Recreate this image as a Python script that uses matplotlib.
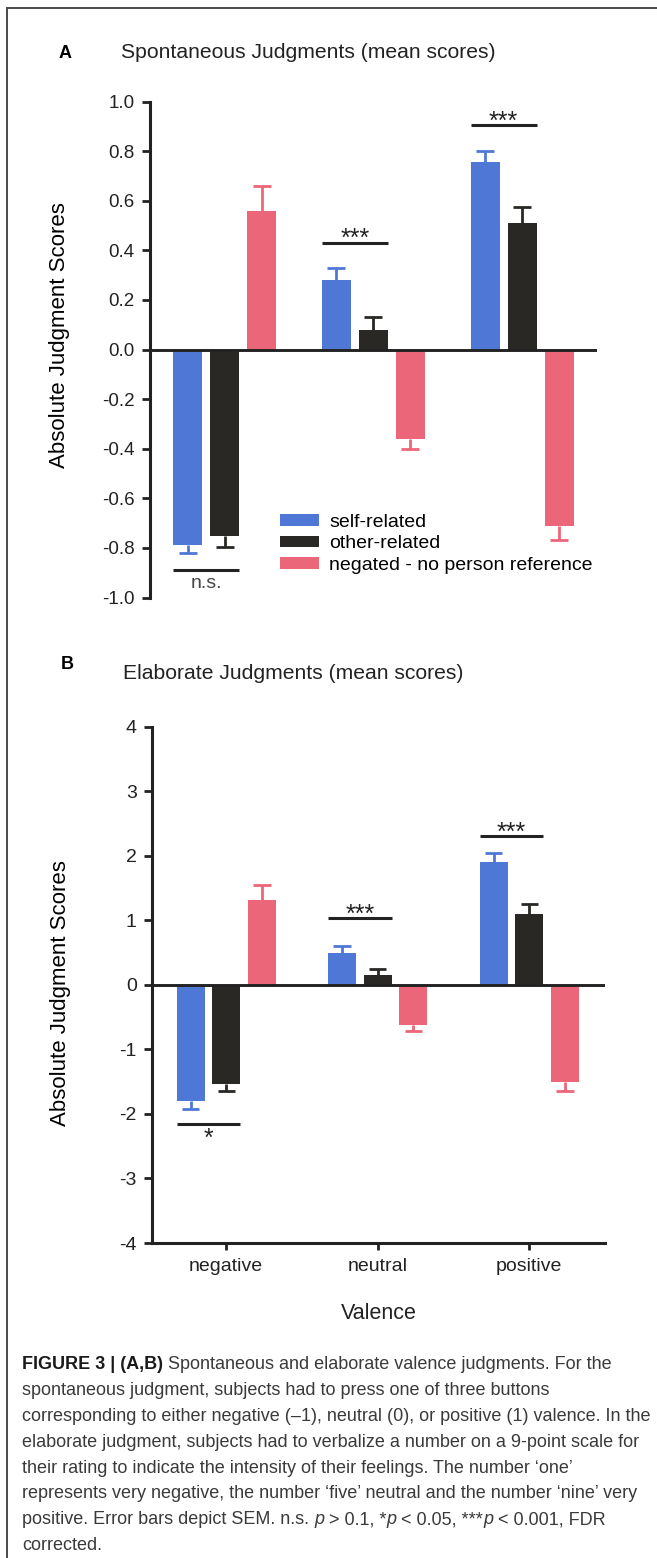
import matplotlib
matplotlib.use("Agg")
import matplotlib.pyplot as plt
from matplotlib.lines import Line2D
import numpy as np

plt.rcParams["font.family"] = ["Liberation Sans", "DejaVu Sans"]
plt.rcParams["axes.unicode_minus"] = False

W, H = 657, 1558

categories = ["negative", "neutral", "positive"]
series_labels = ["self-related", "other-related", "negated - no person reference"]
series_colors = ["#4f78d6", "#292825", "#ec6679"]

# (A) spontaneous judgments: mean and SEM per valence
spont_self = [-0.79, 0.28, 0.755]
spont_self_sem = [0.03, 0.05, 0.045]
spont_other = [-0.75, 0.08, 0.51]
spont_other_sem = [0.047, 0.05, 0.064]
spont_neg = [0.56, -0.36, -0.71]
spont_neg_sem = [0.10, 0.043, 0.057]
spont_sig = ["n.s.", "***", "***"]
spont_sig_y = [-0.89, 0.43, 0.905]

# (B) elaborate judgments
elab_self = [-1.80, 0.50, 1.90]
elab_self_sem = [0.12, 0.10, 0.15]
elab_other = [-1.54, 0.155, 1.10]
elab_other_sem = [0.11, 0.088, 0.16]
elab_neg = [1.32, -0.625, -1.50]
elab_neg_sem = [0.23, 0.085, 0.14]
elab_sig = ["*", "***", "***"]
elab_sig_y = [-2.15, 1.03, 2.30]

caption_lines = [
    [("FIGURE 3 | (A,B)", "bold", "normal"),
     (" Spontaneous and elaborate valence judgments. For the", "normal", "normal")],
    [("spontaneous judgment, subjects had to press one of three buttons", "normal", "normal")],
    [("corresponding to either negative (\u20131), neutral (0), or positive (1) valence. In the", "normal", "normal")],
    [("elaborate judgment, subjects had to verbalize a number on a 9-point scale for", "normal", "normal")],
    [("their rating to indicate the intensity of their feelings. The number \u2018one\u2019", "normal", "normal")],
    [("represents very negative, the number \u2018five\u2019 neutral and the number \u2018nine\u2019 very", "normal", "normal")],
    [("positive. Error bars depict SEM. n.s. ", "normal", "normal"), ("p", "normal", "italic"),
     (" > 0.1, *", "normal", "normal"), ("p", "normal", "italic"),
     (" < 0.05, ***", "normal", "normal"), ("p", "normal", "italic"),
     (" < 0.001, FDR", "normal", "normal")],
    [("corrected.", "normal", "normal")],
]

AXC = "#222222"


def draw_panel(ax, means, sems, sig_text, sig_y, width, pitch):
    x = np.arange(len(categories))
    cap = width * 0.62
    for i, (m, s, c, lab) in enumerate(zip(means, sems, series_colors, series_labels)):
        xs = x + (i - 1) * pitch
        m = np.asarray(m, dtype=float)
        s = np.asarray(s, dtype=float)
        ax.bar(xs, m, width, color=c, label=lab, zorder=2)
        # one-sided SEM bars pointing away from zero
        tip = m + np.sign(m) * s
        ax.vlines(xs, m, tip, colors=c, lw=2.0, zorder=1.5)
        ax.hlines(tip, xs - cap / 2, xs + cap / 2, colors=c, lw=2.0, zorder=1.5)
    ax.axhline(0, color=AXC, lw=2.1, zorder=3)

    for xc, txt, y in zip(x, sig_text, sig_y):
        x0 = xc - pitch - width / 2
        x1 = xc + width / 2
        ax.plot([x0, x1], [y, y], color=AXC, lw=2.2, solid_capstyle="butt", clip_on=False)
        if y > 0:
            ax.annotate(txt, ((x0 + x1) / 2, y), xytext=(0, -2.5), textcoords="offset points",
                        ha="center", va="baseline", fontsize=18, color=AXC, annotation_clip=False)
        elif txt == "n.s.":
            ax.annotate(txt, ((x0 + x1) / 2, y), xytext=(0, -12.5), textcoords="offset points",
                        ha="center", va="baseline", fontsize=14, color="#444444", annotation_clip=False)
        else:
            ax.annotate(txt, ((x0 + x1) / 2, y), xytext=(0, -2.5), textcoords="offset points",
                        ha="center", va="top", fontsize=18, color=AXC, annotation_clip=False)

    for side in ["top", "right"]:
        ax.spines[side].set_visible(False)
    ax.spines["left"].set_linewidth(2.2)
    ax.spines["left"].set_color(AXC)
    ax.tick_params(axis="y", direction="out", length=6, width=2, color=AXC,
                   labelsize=13.5, pad=5, labelcolor="#222222")
    ax.set_facecolor("none")


fig = plt.figure(figsize=(W / 100, H / 100), dpi=100)

# ---- panel A
axA = fig.add_axes([150 / W, 1 - 597.5 / H, 447 / W, 496 / H])
draw_panel(axA, [spont_self, spont_other, spont_neg],
           [spont_self_sem, spont_other_sem, spont_neg_sem],
           spont_sig, spont_sig_y, width=0.195, pitch=0.249)
axA.set_xlim(-0.502, 2.504)
axA.set_ylim(-1.0, 1.0)
ticksA = np.round(np.arange(-1.0, 1.01, 0.2), 1) + 0.0
axA.set_yticks(ticksA)
axA.set_yticklabels([f"{abs(v):.1f}" if abs(v) < 1e-9 else f"{v:.1f}" for v in ticksA])
axA.spines["bottom"].set_visible(False)
axA.set_xticks([])
axA.set_ylabel("Absolute Judgment Scores", fontsize=16)
axA.yaxis.set_label_coords(-0.18, 0.529)
axA.legend(loc="center left", bbox_to_anchor=(0.291, 0.108), frameon=False,
           fontsize=14, handlelength=2.0, handleheight=0.55, handletextpad=0.52,
           labelspacing=0.23, borderpad=0, borderaxespad=0)

# ---- panel B
axB = fig.add_axes([152 / W, 1 - 1243 / H, 453 / W, 516.3 / H])
draw_panel(axB, [elab_self, elab_other, elab_neg],
           [elab_self_sem, elab_other_sem, elab_neg_sem],
           elab_sig, elab_sig_y, width=0.185, pitch=0.235)
axB.set_xlim(-0.49, 2.5)
axB.set_ylim(-4, 4)
axB.set_yticks(range(-4, 5))
axB.spines["bottom"].set_linewidth(2.2)
axB.spines["bottom"].set_color(AXC)
axB.set_xticks(range(len(categories)))
axB.set_xticklabels(categories)
axB.tick_params(axis="x", direction="out", length=5, width=2, color=AXC,
                labelsize=14, pad=6, labelcolor="#222222")
axB.tick_params(axis="y", labelsize=14)
axB.set_xlabel("Valence", fontsize=15.5, labelpad=20, color="#222222")
axB.set_ylabel("Absolute Judgment Scores", fontsize=16)
axB.yaxis.set_label_coords(-0.178, 0.484)

# ---- panel letters and titles
fig.text(59 / W, 1 - 58 / H, "A", fontsize=13, fontweight="bold", va="baseline")
fig.text(121 / W, 1 - 58 / H, "Spontaneous Judgments (mean scores)", fontsize=15.2,
         va="baseline", color="#222222")
fig.text(61 / W, 1 - 669 / H, "B", fontsize=13, fontweight="bold", va="baseline")
fig.text(123 / W, 1 - 679 / H, "Elaborate Judgments (mean scores)", fontsize=15.2,
         va="baseline", color="#222222")

# ---- frame lines
fig.add_artist(Line2D([7 / W, 7 / W], [0, 1 - 8 / H], transform=fig.transFigure,
                      color="#4a4a4a", lw=1.4))
fig.add_artist(Line2D([7 / W, 1], [1 - 8 / H, 1 - 8 / H], transform=fig.transFigure,
                      color="#4a4a4a", lw=1.4))

# ---- caption, drawn segment by segment
renderer = fig.canvas.get_renderer()
base_y = 1369
line_step = 25.9
for k, parts in enumerate(caption_lines):
    xpx = 22
    ypx = base_y + k * line_step
    for txt, weight, style in parts:
        col = "#1a1a1a" if weight == "bold" else "#3a3a3a"
        t = fig.text(xpx / W, 1 - ypx / H, txt, fontsize=13, fontweight=weight,
                     fontstyle=style, color=col, va="baseline", ha="left")
        xpx += t.get_window_extent(renderer).width

fig.savefig("out.png", dpi=100)
